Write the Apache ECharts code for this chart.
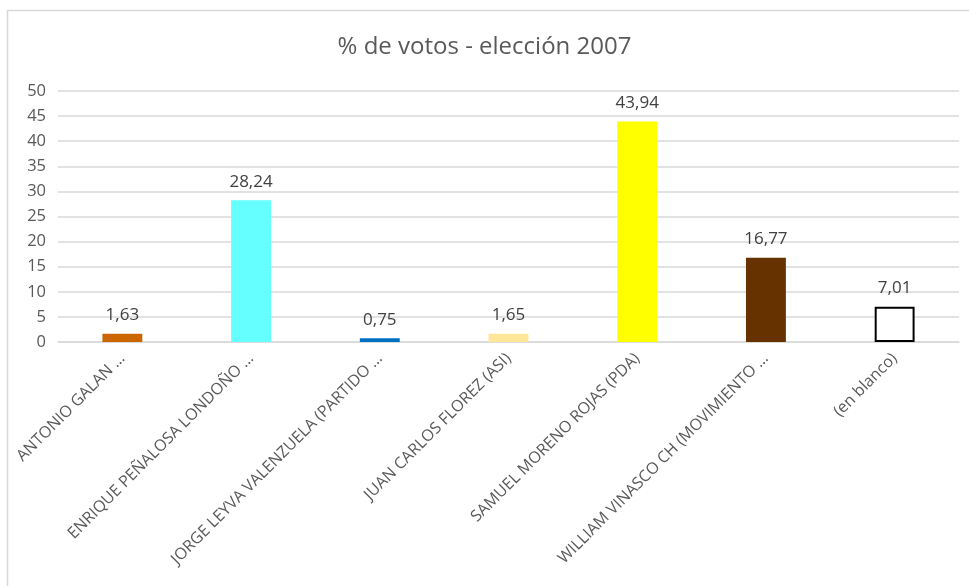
<!DOCTYPE html>
<html>
<head>
<meta charset="utf-8">
<script src="https://cdn.jsdelivr.net/npm/echarts@6/dist/echarts.min.js"></script>
<style>
  html, body { margin: 0; padding: 0; background: #fff; }
  #chart { width: 969px; height: 586px; }
</style>
</head>
<body>
<div id="chart"></div>
<script>
// categories as shown (Excel truncates long names with "…")
var candidatos = [
  "ANTONIO GALAN …",
  "ENRIQUE PEÑALOSA LONDOÑO …",
  "JORGE LEYVA VALENZUELA (PARTIDO …",
  "JUAN CARLOS FLOREZ (ASI)",
  "SAMUEL MORENO ROJAS (PDA)",
  "WILLIAM VINASCO CH (MOVIMIENTO …",
  "(en blanco)"
];
var votos = [1.63, 28.24, 0.75, 1.65, 43.94, 16.77, 7.01];
var colores = ["#CC6600", "#66FFFF", "#0070C0", "#FFE699", "#FFFF00", "#663300", "#FFFFFF"];
var bordes = ["#CC6600", "#66FFFF", "#0070C0", "#FFE699", "#FFFF00", "#663300", "#000000"];

var myChart = echarts.init(document.getElementById("chart"));
var fuente = "'Open Sans', 'Noto Sans', sans-serif";

var option = {
  animation: false,
  backgroundColor: "#fff",
  textStyle: { fontFamily: fuente },
  title: {
    text: "% de votos - elección 2007",
    left: "center",
    top: 30,
    textStyle: { fontFamily: fuente, fontSize: 24, fontWeight: "normal", color: "#595959" }
  },
  // marco del gráfico
  graphic: [
    {
      type: "polyline",
      shape: { points: [[7.5, 586], [7.5, 10.5], [969, 10.5]] },
      style: { stroke: "#D9D9D9", lineWidth: 1.5, fill: null }
    }
  ],
  grid: { left: 58, right: 10, top: 91, bottom: 244 },
  xAxis: {
    type: "category",
    data: candidatos,
    axisLine: { lineStyle: { color: "#D9D9D9", width: 1.5 } },
    axisTick: { show: false },
    axisLabel: {
      rotate: 45,
      interval: 0,
      margin: 14,
      fontSize: 16,
      color: "#595959",
      fontFamily: fuente
    }
  },
  yAxis: {
    type: "value",
    min: 0,
    max: 50,
    interval: 5,
    axisLine: { show: false },
    axisTick: { show: false },
    splitLine: { lineStyle: { color: "#D9D9D9", width: 1.5 } },
    axisLabel: { fontSize: 16.5, color: "#595959", margin: 12, fontFamily: fuente }
  },
  series: [
    {
      type: "bar",
      barWidth: "31%",
      data: votos.map(function (v, i) {
        return {
          value: v,
          itemStyle: { color: colores[i], borderColor: bordes[i], borderWidth: i === 6 ? 2 : 0 }
        };
      }),
      label: {
        show: true,
        position: "top",
        distance: 10,
        fontSize: 17,
        color: "#404040",
        fontFamily: fuente,
        formatter: function (p) {
          return p.value.toFixed(2).replace(".", ",");
        }
      }
    }
  ]
};
myChart.setOption(option);
</script>
</body>
</html>
